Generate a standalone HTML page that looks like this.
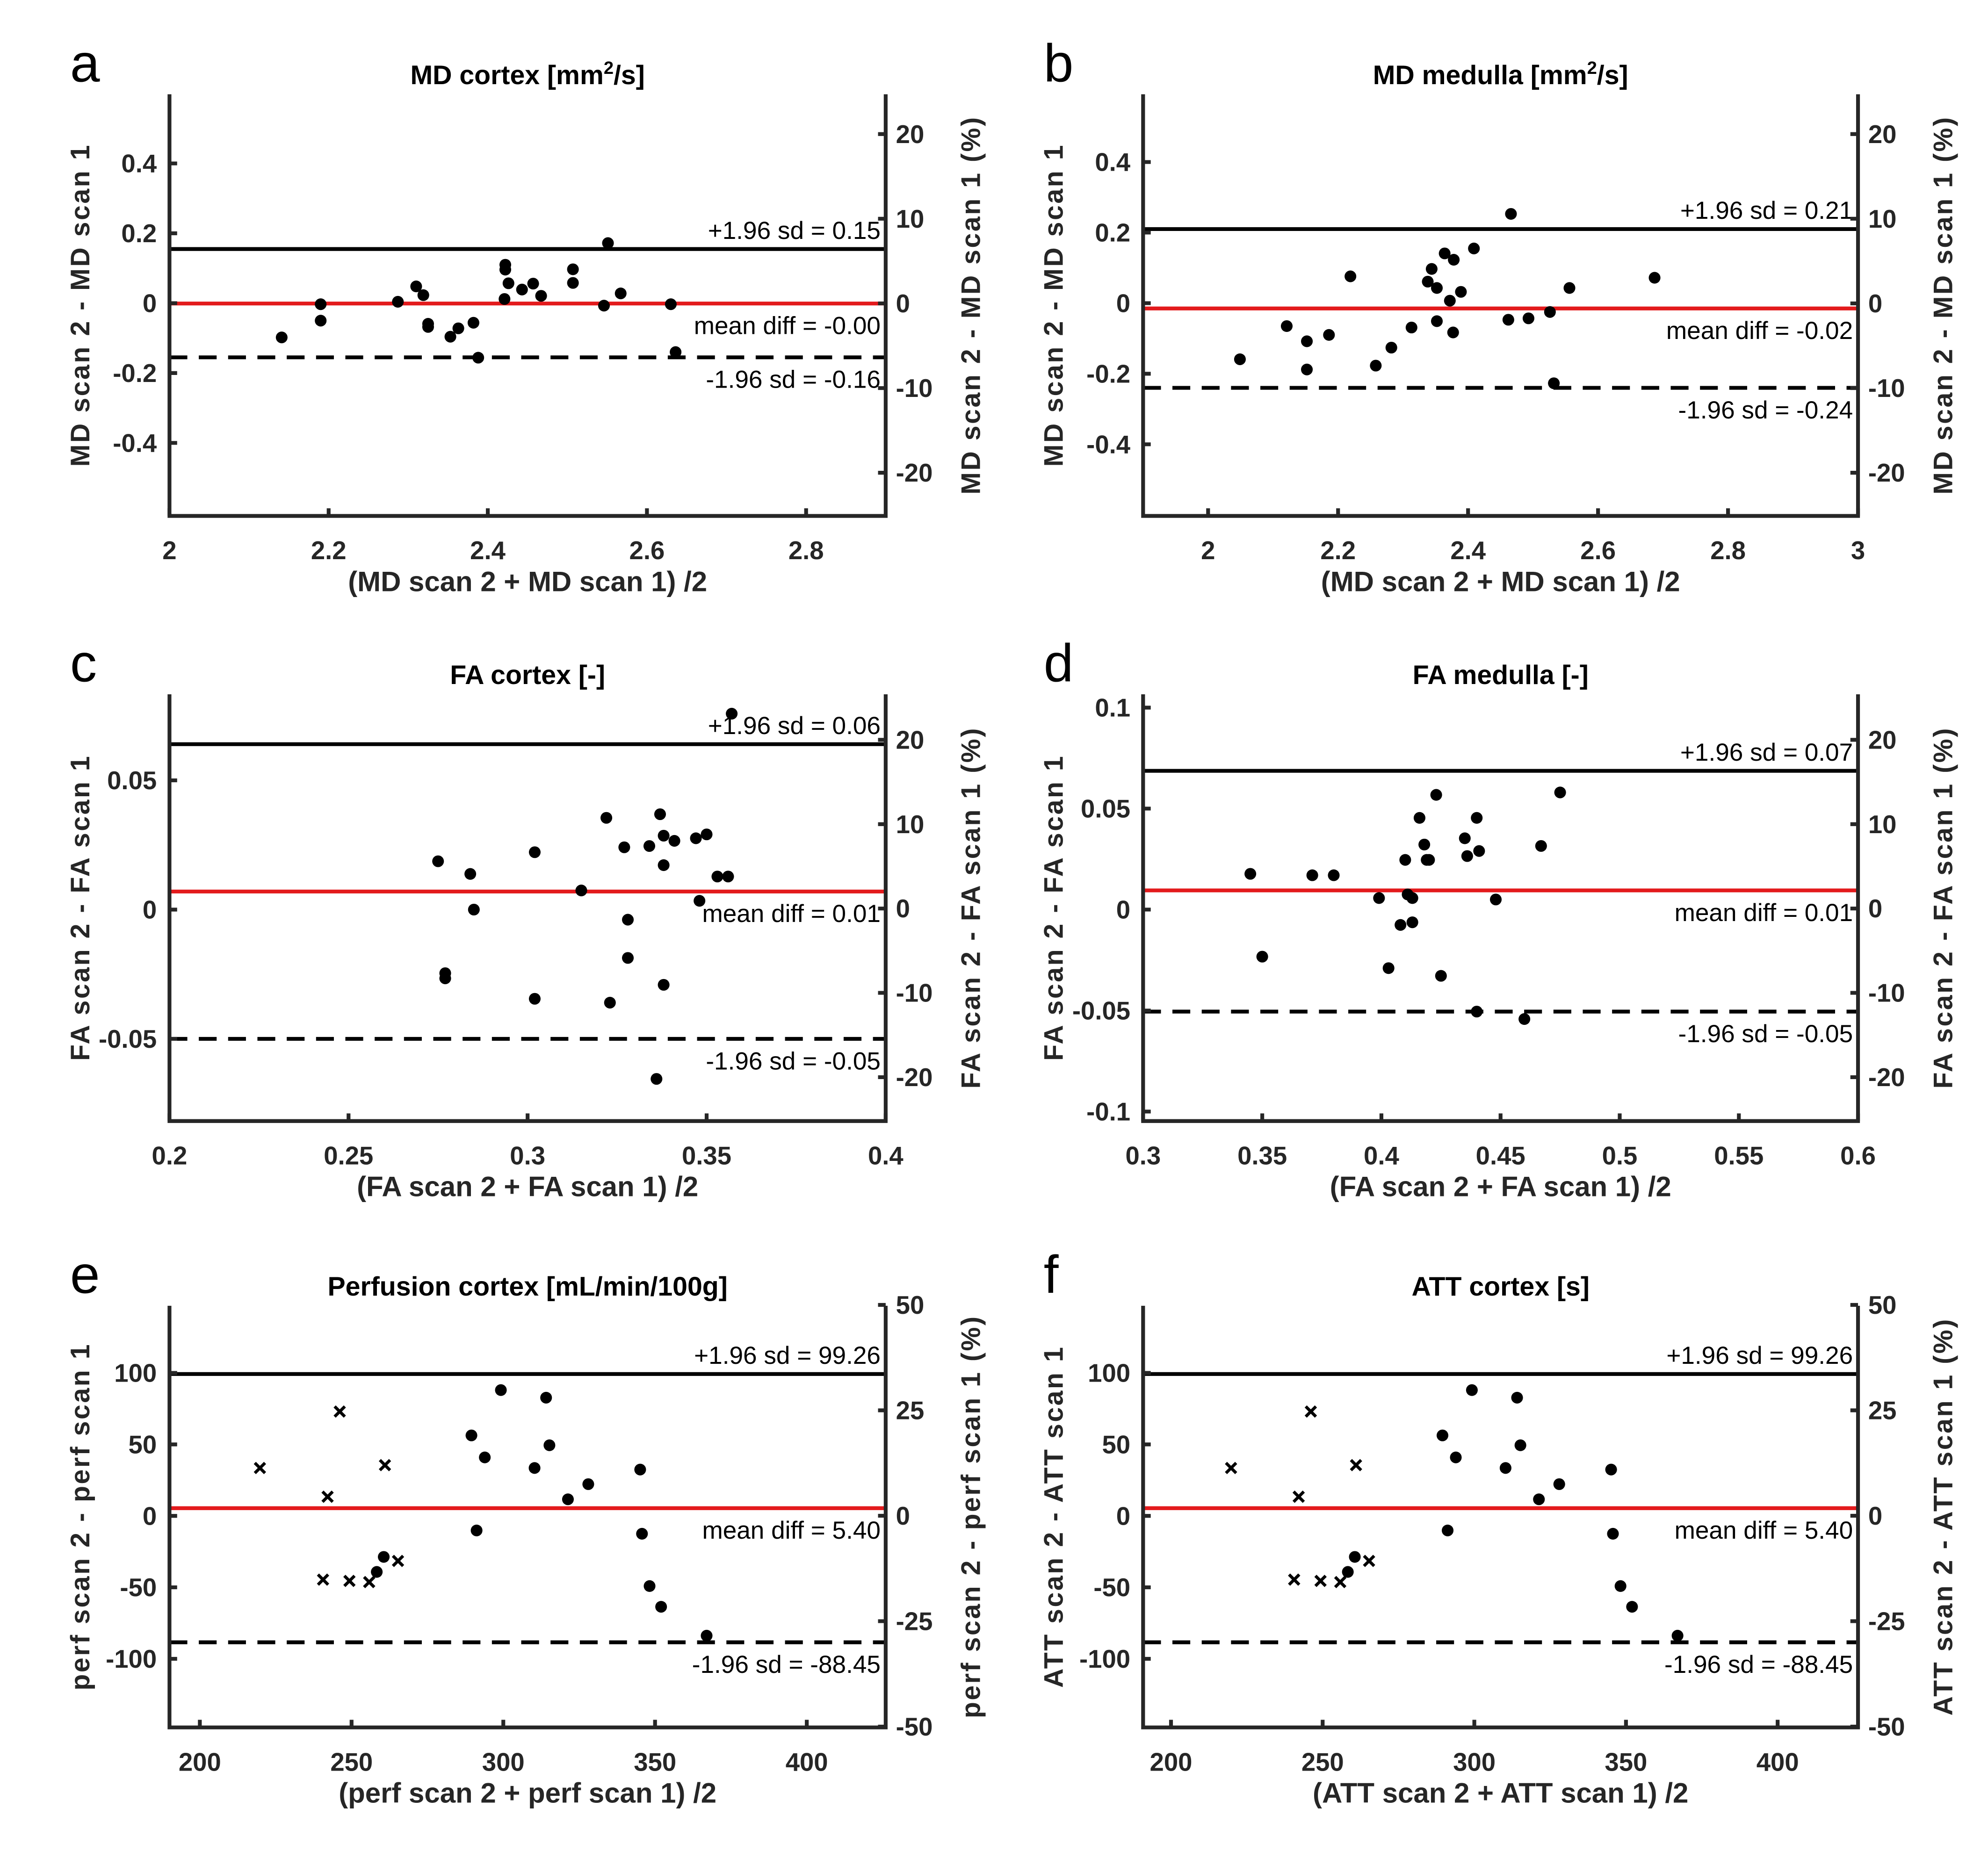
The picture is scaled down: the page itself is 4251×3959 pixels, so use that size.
<!DOCTYPE html>
<html><head><meta charset="utf-8"><style>
html,body{margin:0;padding:0;background:#fff;}
svg{display:block;}
text{font-family:"Liberation Sans Narrow","Liberation Sans",sans-serif;fill:#000;}
.tk{font-weight:bold;font-size:20px;fill:#262626;}
.xlab{font-family:"Liberation Sans",sans-serif;font-weight:bold;font-size:22px;fill:#262626;}
.lab{font-family:"Liberation Sans",sans-serif;font-weight:bold;font-size:21px;letter-spacing:1.3px;fill:#262626;}
.ttl{font-weight:bold;font-size:21px;}
.ann{font-size:19.5px;}
.let{font-family:"Liberation Sans",sans-serif;font-size:42px;}
</style></head><body>
<svg id="fig" width="4251" height="3959" viewBox="0 0 1560 1453" preserveAspectRatio="none" xmlns="http://www.w3.org/2000/svg"></svg>
<script>
// ---- data arrays ----
const aX=[2.141,2.19,2.19,2.287,2.31,2.319,2.325,2.325,2.353,2.363,2.382,2.388,2.421,2.422,2.422,2.426,2.443,2.457,2.467,2.507,2.507,2.546,2.551,2.567,2.63,2.636];
const aY=[-0.098,-0.003,-0.05,0.004,0.048,0.023,-0.059,-0.068,-0.096,-0.072,-0.056,-0.156,0.012,0.11,0.096,0.057,0.039,0.056,0.021,0.097,0.058,-0.007,0.172,0.028,-0.003,-0.14];
const aLines=[0.155,-0.001,-0.155];
const aLabels=["+1.96 sd = 0.15","mean diff = -0.00","-1.96 sd = -0.16"];

const bX=[2.049,2.121,2.152,2.152,2.186,2.219,2.258,2.282,2.313,2.338,2.344,2.352,2.364,2.378,2.352,2.372,2.389,2.377,2.409,2.466,2.462,2.493,2.526,2.532,2.556,2.687];
const bY=[-0.159,-0.065,-0.108,-0.188,-0.09,0.076,-0.177,-0.126,-0.069,0.061,0.097,0.043,0.141,0.123,-0.051,0.007,0.032,-0.083,0.155,0.253,-0.047,-0.043,-0.025,-0.227,0.043,0.072];
const bLines=[0.21,-0.015,-0.24];
const bLabels=["+1.96 sd = 0.21","mean diff = -0.02","-1.96 sd = -0.24"];

const cX=[0.275,0.284,0.285,0.277,0.277,0.302,0.302,0.315,0.322,0.323,0.327,0.328,0.328,0.334,0.337,0.338,0.338,0.338,0.341,0.347,0.348,0.350,0.353,0.356,0.357,0.336];
const cY=[0.0187,0.0138,0,-0.0246,-0.0266,0.0222,-0.0345,0.0074,0.0355,-0.0360,0.0241,-0.0039,-0.0187,0.0246,0.0369,0.0286,0.0172,-0.0291,0.0266,0.0276,0.0034,0.0291,0.0128,0.0128,0.0758,-0.0655];
const cLines=[0.064,0.007,-0.05];
const cLabels=["+1.96 sd = 0.06","mean diff = 0.01","-1.96 sd = -0.05"];

const dX=[0.345,0.35,0.371,0.38,0.399,0.408,0.41,0.411,0.413,0.416,0.418,0.42,0.413,0.423,0.419,0.425,0.435,0.436,0.44,0.44,0.441,0.448,0.46,0.467,0.475,0.403];
const dY=[0.0177,-0.0233,0.0170,0.0170,0.0057,-0.0076,0.0246,0.0075,-0.0063,0.0454,0.0322,0.0246,0.0057,0.0568,0.0246,-0.0328,0.0353,0.0265,0.0454,-0.0505,0.0290,0.005,-0.0542,0.0315,0.0580,-0.0290];
const dLines=[0.0687,0.0095,-0.0505];
const dLabels=["+1.96 sd = 0.07","mean diff = 0.01","-1.96 sd = -0.05"];

const pDotX=[289.5,299.2,293.9,291.2,310.3,314.1,315.2,321.3,328,345.1,345.7,348.2,352,367,260.6,258.3];
const pDotY=[56.3,88,40.9,-10.2,33.5,82.7,49.4,11.6,22.2,32.4,-12.5,-49.1,-63.6,-83.8,-28.7,-39.2];
const pCrossX=[219.8,242.1,246.1,261,240.6,249.3,255.8,265.3];
const pCrossY=[33.5,13.4,73,35.5,-44.6,-45.5,-46.3,-31.5];
const pLines=[99.26,5.4,-88.45];
const pLabels=["+1.96 sd = 99.26","mean diff = 5.40","-1.96 sd = -88.45"];

const mdXTicksA=[2,2.2,2.4,2.6,2.8];
const mdXTicksB=[2,2.2,2.4,2.6,2.8,3];
const mdYTicks=[0.4,0.2,0,-0.2,-0.4];
const pctTicks1=[20,10,0,-10,-20];
const faXTicksC=[0.2,0.25,0.3,0.35,0.4];
const faXTicksD=[0.3,0.35,0.4,0.45,0.5,0.55,0.6];
const faYTicksC=[0.05,0,-0.05];
const faYTicksD=[0.1,0.05,0,-0.05,-0.1];
const pXTicks=[200,250,300,350,400];
const pYTicks=[100,50,0,-50,-100];
const pctTicks2=[50,25,0,-25,-50];

// ---- drawing ----
const NS="http://www.w3.org/2000/svg";
const svg=document.getElementById('fig');
function mk(tag,attrs,parent){const e=document.createElementNS(NS,tag);for(const k in attrs)e.setAttribute(k,attrs[k]);(parent||svg).appendChild(e);return e;}
function fmt(v){return String(v);}

function panel(p){
  const g=mk('g',{});
  
  
  const sx=v=>p.L+(v-p.x0)/(p.x1-p.x0)*(p.R-p.L);
  const sy=v=>p.B-(v-p.y0)/(p.y1-p.y0)*(p.B-p.T);
  const sr=v=>p.B-(v-p.r0)/(p.r1-p.r0)*(p.B-p.T);
  const lt=mk('text',{x:p.L-78,y:p.T-10,class:'let'},g);lt.textContent=p.id;
  
  
  const tt=mk('text',{x:(p.L+p.R)/2,y:p.T-8,class:'ttl','text-anchor':'middle'},g);
  
  
  tt.innerHTML=p.title;
  const cols=['#000','#e31a1c','#000'];
  p.lines.forEach((v,i)=>{
    const ln=mk('line',{x1:p.L,x2:p.R,y1:sy(v),y2:sy(v),stroke:cols[i],'stroke-width':3},g);
    if(i===2){ln.setAttribute('stroke-dasharray','14,9');}
    
    
    const ty=i===0?sy(v)-8:sy(v)+24;
    const t=mk('text',{x:p.R-4,y:ty,class:'ann','text-anchor':'end'},g);t.textContent=p.labels[i];
    
    
  });
  p.dx.forEach((v,i)=>{
    const c=mk('circle',{cx:sx(v),cy:sy(p.dy[i]),r:4.6,fill:'#000'},g);
    
    
  });
  if(p.cx){p.cx.forEach((v,i)=>{
    const X=sx(v),Y=sy(p.cy[i]),s=4;
    const cr=mk('path',{d:`M${X-s},${Y-s}L${X+s},${Y+s}M${X-s},${Y+s}L${X+s},${Y-s}`,stroke:'#000','stroke-width':2.4,fill:'none'},g);
    
    
  });}
  const ax=mk('path',{d:`M${p.L},${p.T}L${p.L},${p.B}L${p.R},${p.B}L${p.R},${p.T}`,stroke:'#262626','stroke-width':3,fill:'none'},g);
  
  
  p.xt.forEach(v=>{
    const X=sx(v);mk('line',{x1:X,x2:X,y1:p.B,y2:p.B-6,stroke:'#262626','stroke-width':3},g);
    const t=mk('text',{x:X,y:p.B+34,class:'tk','text-anchor':'middle'},g);t.textContent=fmt(v);
    
    
  });
  p.yt.forEach(v=>{
    const Y=sy(v);mk('line',{x1:p.L,x2:p.L+6,y1:Y,y2:Y,stroke:'#262626','stroke-width':3},g);
    const t=mk('text',{x:p.L-10,y:Y+7,class:'tk','text-anchor':'end'},g);t.textContent=fmt(v);
    
    
  });
  p.rt.forEach(v=>{
    const Y=sr(v);mk('line',{x1:p.R,x2:p.R-6,y1:Y,y2:Y,stroke:'#262626','stroke-width':3},g);
    const t=mk('text',{x:p.R+8,y:Y+7,class:'tk','text-anchor':'start'},g);t.textContent=fmt(v);
    
    
  });
  const xl=mk('text',{x:(p.L+p.R)/2,y:p.B+59,class:'xlab','text-anchor':'middle'},g);xl.textContent=p.xlab;
  
  
  const cy=(p.T+p.B)/2;
  const yl=mk('text',{x:0,y:0,class:'lab','text-anchor':'middle',transform:`translate(${p.L-63},${cy}) rotate(-90)`},g);yl.textContent=p.ylab;
  
  
  const rl=mk('text',{x:0,y:0,class:'lab','text-anchor':'middle',transform:`translate(${p.R+74},${cy}) rotate(-90)`},g);rl.textContent=p.ylab+' (%)';
  
  
}

panel({id:'a',L:133,R:695,T:74,B:405,x0:2,x1:2.9,y0:-0.609,y1:0.598,r0:-25.1,r1:24.7,
  title:'MD cortex [mm<tspan dy="-8" font-size="14">2</tspan><tspan dy="8">/s]</tspan>',dx:aX,dy:aY,lines:aLines,labels:aLabels,
  xt:mdXTicksA,yt:mdYTicks,rt:pctTicks1,xlab:'(MD scan 2 + MD scan 1) /2',ylab:'MD scan 2 - MD scan 1'});
panel({id:'b',L:897,R:1458,T:74,B:405,x0:1.9,x1:3,y0:-0.603,y1:0.592,r0:-25.1,r1:24.7,
  title:'MD medulla [mm<tspan dy="-8" font-size="14">2</tspan><tspan dy="8">/s]</tspan>',dx:bX,dy:bY,lines:bLines,labels:bLabels,
  xt:mdXTicksB,yt:mdYTicks,rt:pctTicks1,xlab:'(MD scan 2 + MD scan 1) /2',ylab:'MD scan 2 - MD scan 1'});
panel({id:'c',L:133,R:695,T:545,B:880,x0:0.2,x1:0.4,y0:-0.0818,y1:0.0833,r0:-25.2,r1:25.4,
  title:'FA cortex [-]',dx:cX,dy:cY,lines:cLines,labels:cLabels,
  xt:faXTicksC,yt:faYTicksC,rt:pctTicks1,xlab:'(FA scan 2 + FA scan 1) /2',ylab:'FA scan 2 - FA scan 1'});
panel({id:'d',L:897,R:1458,T:545,B:880,x0:0.3,x1:0.6,y0:-0.1047,y1:0.1066,r0:-25.2,r1:25.4,
  title:'FA medulla [-]',dx:dX,dy:dY,lines:dLines,labels:dLabels,
  xt:faXTicksD,yt:faYTicksD,rt:pctTicks1,xlab:'(FA scan 2 + FA scan 1) /2',ylab:'FA scan 2 - FA scan 1'});
panel({id:'e',L:133,R:695,T:1025,B:1356,x0:190,x1:426,y0:-148,y1:147,r0:-50.2,r1:49.8,
  title:'Perfusion cortex [mL/min/100g]',dx:pDotX,dy:pDotY,cx:pCrossX,cy:pCrossY,lines:pLines,labels:pLabels,
  xt:pXTicks,yt:pYTicks,rt:pctTicks2,xlab:'(perf scan 2 + perf scan 1) /2',ylab:'perf scan 2 - perf scan 1'});
panel({id:'f',L:897,R:1458,T:1025,B:1356,x0:190.8,x1:426.5,y0:-148,y1:147,r0:-50.2,r1:49.8,
  title:'ATT cortex [s]',dx:pDotX,dy:pDotY,cx:pCrossX,cy:pCrossY,lines:pLines,labels:pLabels,
  xt:pXTicks,yt:pYTicks,rt:pctTicks2,xlab:'(ATT scan 2 + ATT scan 1) /2',ylab:'ATT scan 2 - ATT scan 1'});
</script>
</body></html>
